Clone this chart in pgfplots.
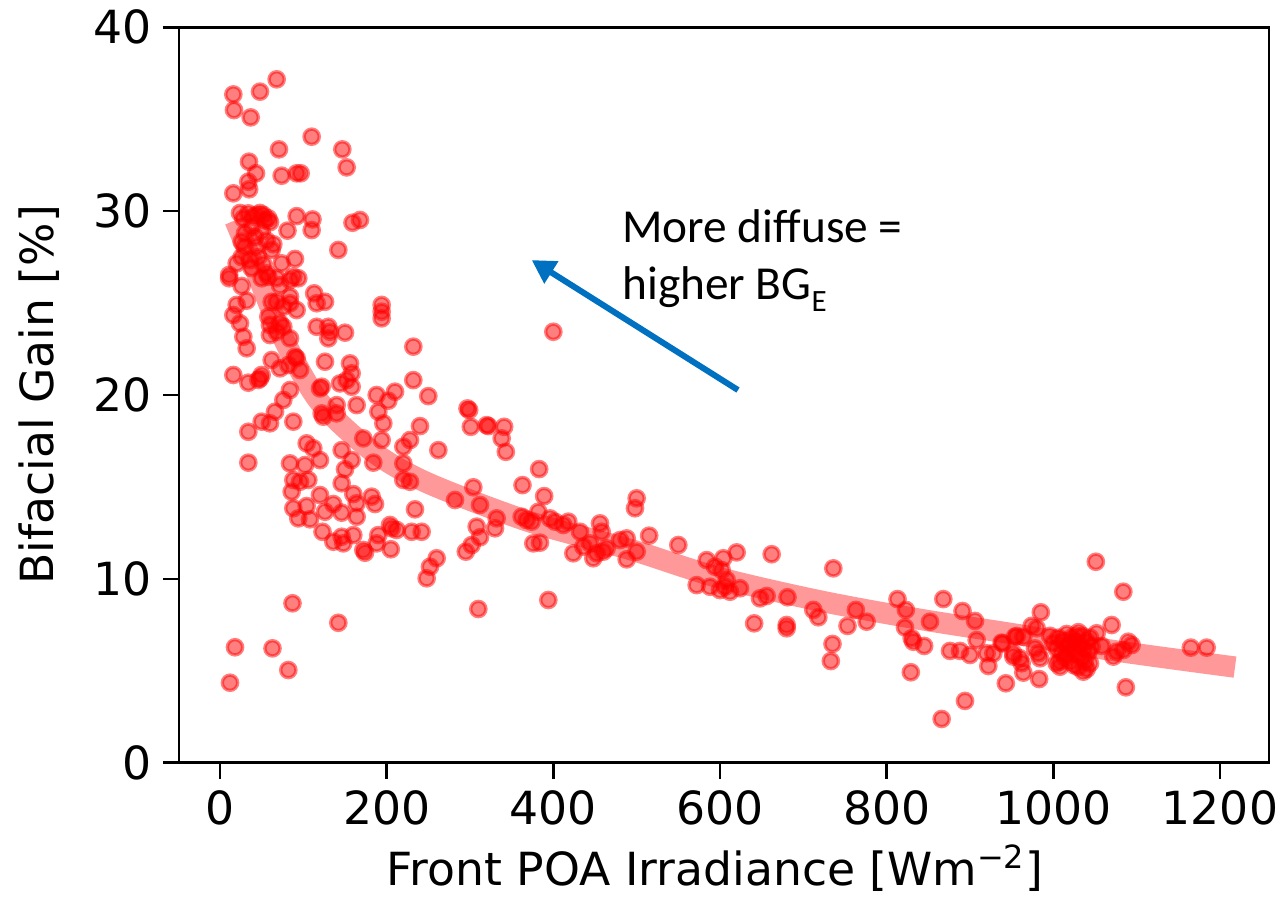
\documentclass[border=0pt]{standalone}
\usepackage{fontspec}
\setmainfont{DejaVu Sans}
\newfontfamily\calibri{Carlito}
\usepackage{pgfplots}
\usepackage{pgfplotstable}
\pgfplotsset{compat=1.18}
\usetikzlibrary{arrows.meta}
\definecolor{arrowblue}{HTML}{0070C0}

\pgfplotstableread{
x y
16 36.35
16.8 35.5
36.8 35.1
48 36.5
68 37.17
110 34.05
70.8 33.36
146.8 33.36
152 32.38
34.8 32.69
43.2 32.06
33.9 31.6
35 31.19
16 30.97
74 31.93
92 32.06
96.8 32.06
34 29.88
52 29.79
58 29.61
92 29.73
111 29.55
110 28.97
81 28.94
159 29.37
168 29.52
142 27.89
30 28.8
38 29.15
26 28.34
30 28.07
44 28.07
62 27.89
20 27.16
36 27.34
74 27.16
90 27.4
11 26.53
56 26.62
88 26.43
24 29.9
28 29.6
40 29.7
44 29.8
48 29.9
54 29.5
60 29.4
50 28.9
56 28.4
26 27.5
38 26.9
46 27.5
52 27.1
64 28.2
42 28.6
11 26.35
26 25.93
50 26.35
58 26.43
68 26.35
84 26.25
94 26.35
72 25.97
113 25.53
116 24.99
126 25.07
32 25.13
20 24.9
16 24.35
62 25.07
68 25.07
84 25.35
84 24.99
76 24.8
92 24.62
58 24.26
24 23.9
60 23.81
72 23.9
76 23.71
194 24.9
194 24.53
194 24.17
116 23.71
130 23.71
132 23.44
130 23.08
150 23.39
28 23.17
32 22.54
60 23.26
68 23.44
84 23.08
232 22.63
126 21.81
156 21.72
158 21.18
62 21.9
90 22.08
92 22.0
82 21.63
72 21.45
96 21.36
16 21.09
34 20.67
48 20.9
50 21.09
46 20.82
122 20.45
120 20.36
144 20.63
152 20.81
158 20.45
232 20.81
84 20.27
76 19.73
66 19.09
250 19.94
188 20.0
202 19.69
210 20.18
164 19.45
140 19.45
140 19.0
122 19.0
124 18.82
190 19.09
196 18.46
88 18.55
50 18.55
60 18.46
34 18.0
240 18.31
172 17.64
194 17.55
228 17.55
220 17.19
104 17.37
112 17.1
120 16.46
146 17.0
158 16.46
150 15.96
184 16.32
220 16.28
220 15.38
34 16.32
84 16.28
102 16.19
88 15.38
96 15.28
106 15.38
146 15.2
228 15.28
262 17.0
86 14.74
120 14.56
160 14.61
164 14.11
182 14.47
186 14.07
88 13.84
104 13.96
94 13.29
108 13.24
126 13.65
136 14.07
146 13.6
164 13.38
234 13.78
123 12.56
136 12.02
146 12.29
148 11.93
160 12.38
172 11.57
174 11.42
190 12.38
188 11.93
204 12.93
206 12.75
212 12.66
205 11.61
230 12.56
242 12.56
248 10.03
252 10.66
260 11.12
87 8.67
142 7.61
18 6.28
63 6.22
82 5.04
12 4.35
400 23.44
297 19.27
299 19.18
301 18.27
320 18.36
322 18.31
341 18.27
338 17.64
343 16.91
383 15.97
363 15.1
389 14.5
304 14.98
282 14.29
312 14.02
500 14.38
498 13.84
332 13.29
330 12.75
308 12.84
312 12.26
302 11.84
295 11.48
362 13.38
368 13.2
374 13.11
382 13.65
396 13.29
402 13.11
412 12.93
418 13.11
376 11.93
384 11.97
432 12.56
456 13.02
458 12.56
444 11.93
424 11.39
436 11.75
452 11.39
460 11.48
448 11.12
464 11.66
480 12.11
488 12.2
500 11.48
488 11.06
515 12.35
550 11.84
394 8.85
310 8.36
584 11.02
594 10.66
604 11.12
572 9.66
588 9.57
600 9.39
608 9.94
620 11.44
602 10.48
662 11.34
736 10.57
606 9.57
612 9.3
624 9.49
648 8.94
656 9.07
681 9.0
641 7.58
680 7.49
680 7.31
712 8.31
718 7.91
763 8.31
776 7.67
753 7.44
735 6.46
733 5.53
813 8.9
823 8.31
822 7.36
830 6.77
832 6.58
845 6.35
829 4.92
852 7.67
868 8.9
866 2.38
891 8.25
906 7.71
894 3.36
876 6.08
888 6.08
900 5.86
908 6.67
920 5.95
928 5.95
922 5.26
938 6.53
954 6.85
943 4.32
952 5.77
1051 10.93
1084 9.3
985 8.18
1070 7.49
939 6.49
956 6.89
964 6.85
974 7.44
980 7.31
952 5.95
960 5.68
962 5.41
964 4.9
983 4.55
978 6.22
982 5.95
984 5.68
1008 5.22
1004 5.41
1036 4.95
1052 7.04
1058 6.35
1072 5.77
1076 6.04
1084 6.13
1090 6.58
1094 6.4
1087 4.1
1165 6.26
1184 6.26
996 6.9
1000 6.5
1004 6.2
1006 6.8
1010 6.0
1012 6.6
1014 5.7
1016 7.0
1018 6.3
1020 5.5
1022 6.8
1024 6.1
1025 5.3
1026 6.6
1028 5.9
1030 7.1
1030 5.2
1032 6.4
1034 5.7
1035 6.9
1036 6.2
1038 5.5
1040 6.6
1040 5.1
1042 6.0
1044 6.8
1044 5.4
1020 6.5
1028 6.9
1016 5.9
1008 5.5
1046 6.3
}\scatterdata

\pgfplotstableread{
x y
18 29.5
30 28.2
47 26.3
78 22.9
120 19.6
184 16.9
250 15.2
372 13.1
492 11.6
596 10.1
720 8.8
840 7.8
960 6.95
1072 6.1
1218 5.2
}\fitdata

\begin{document}
\begin{tikzpicture}
\useasboundingbox (-53.7pt,-44.79pt) rectangle (332.1pt,228.81pt);
\begin{axis}[
  at={(0,0)}, anchor=south west,
  scale only axis, width=327pt, height=220.62pt,
  xmin=-49.2, xmax=1258.8, ymin=0, ymax=40,
  xtick={0,200,400,600,800,1000,1200},
  ytick={0,10,20,30,40},
  xtick pos=left, ytick pos=left,
  tick align=outside, major tick length=4.8pt,
  axis line style={line width=0.8pt},
  every tick/.style={black, line width=0.8pt},
  ticklabel style={font=\fontsize{13.7}{16}\selectfont},
  /pgf/number format/assume math mode=true,
  /pgf/number format/1000 sep={},
  xlabel={Front POA Irradiance [Wm\textsuperscript{\char"2212 2}]},
  ylabel={Bifacial Gain [\%]},
  label style={font=\fontsize{13.7}{16}\selectfont},
  xlabel style={at={(axis description cs:0.492,-0.143)}, anchor=center},
  ylabel style={at={(axis description cs:-0.128,0.5)}, anchor=center},
]
\addplot[no marks, red, opacity=0.4, line width=6.4pt, line cap=butt, smooth] table[x=x,y=y] {\fitdata};
\addplot[only marks, mark=*, mark size=2.3pt,
  mark options={draw=red, fill=red, draw opacity=0.5, fill opacity=0.5, line width=1pt}]
  table[x=x,y=y] {\scatterdata};
\draw[arrowblue, line width=1.8pt, -{Triangle[length=7pt,width=7.5pt]}]
  (axis cs:621.6,20.27) -- (axis cs:374,27.34);
\node[anchor=base west, inner sep=0pt, font=\calibri\fontsize{14.2}{17}\selectfont]
  at (axis cs:482,28.27) {More diffuse =};
\node[anchor=base west, inner sep=0pt, font=\calibri\fontsize{14.2}{17}\selectfont]
  at (axis cs:482,25.17) {higher BG\raisebox{-3.5pt}{\fontsize{9.3}{10}\selectfont E}};
\end{axis}
\end{tikzpicture}
\end{document}
